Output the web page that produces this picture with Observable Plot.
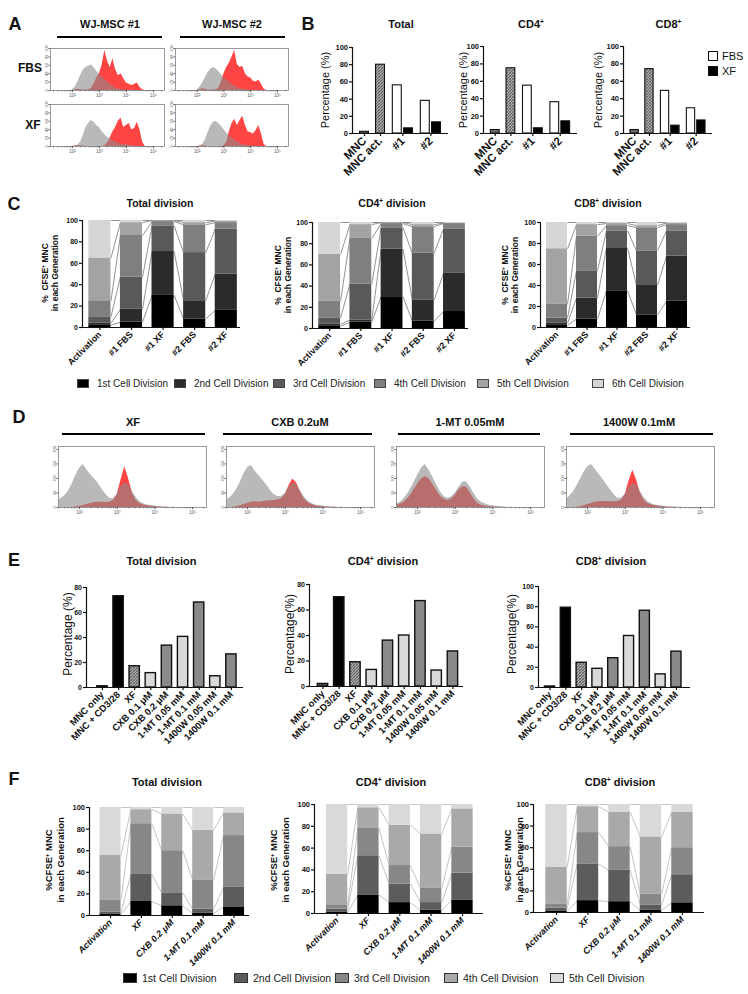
<!DOCTYPE html>
<html><head><meta charset="utf-8">
<script src="https://cdn.jsdelivr.net/npm/d3@7"></script>
<script src="https://cdn.jsdelivr.net/npm/@observablehq/plot@0.6"></script>
<style>
body{margin:0;background:#fff;}
#root{position:relative;width:748px;height:994px;overflow:hidden;font-family:"Liberation Sans",Arial,Helvetica,sans-serif;color:#111;background:#fff;}
.t{position:absolute;white-space:nowrap;line-height:1;}
sup{font-size:0.6em;vertical-align:0.55em;line-height:0;}
.bar{position:absolute;background:#000;}
.sq{position:absolute;box-sizing:border-box;}
svg{overflow:visible;}
</style></head><body>
<svg width="0" height="0" style="position:absolute;left:0;top:0">
<defs>
<pattern id="hatch" width="3" height="3" patternUnits="userSpaceOnUse">
<rect width="3" height="3" fill="#a8a8a8"/>
<path d="M0,3 L3,0 M-1,1 L1,-1 M2,4 L4,2" stroke="#4e4e4e" stroke-width="0.8"/>
<path d="M0,0 L3,3" stroke="#6a6a6a" stroke-width="0.5"/>
</pattern>
</defs></svg>
<div id="root"></div>
<script>
// ---------------- DATA ----------------
// Panel A: CFSE histograms (x = log10 fluorescence, y = relative count)
const aGrid = [2.0,2.1,2.2,2.3,2.4,2.5,2.6,2.7,2.8,2.9,3.0,3.1,3.2,3.3,3.4,3.5,3.6,3.7,3.8,3.9,4.0,4.1,4.2,4.3,4.4,4.5,4.6,4.7,4.8];
const a1FbsGray = [2,8,20,35,48,55,58,61,55,46,38,32,26,20,15,10,6,4,2,1,0,0,0,0,0,0,0,0,0];
const a1FbsRed  = [0,1,3,2,1,1,2,5,15,30,40,60,95,70,55,75,50,35,40,28,18,15,12,14,18,8,2,0,0];
const a1XfGray  = [0,1,3,10,25,45,55,62,58,50,45,35,28,22,18,14,10,8,6,5,4,3,2,1,0,0,0,0,0];
const a1XfRed   = [0,1,2,1,1,0,0,0,0,0,0,0,2,8,20,35,45,60,68,45,50,55,40,42,58,40,10,0,0];
const a2FbsGray = [2,8,18,30,42,50,55,52,45,38,30,25,20,15,10,7,5,3,2,1,0,0,0,0,0,0,0,0,0];
const a2FbsRed  = [0,2,4,3,1,1,1,2,5,20,40,55,65,80,95,62,55,58,40,32,30,22,20,25,15,3,0,0,0];
const a2XfGray  = [0,1,4,15,32,48,57,60,55,48,40,32,25,20,15,10,7,5,3,2,1,0,0,0,0,0,0,0,0];
const a2XfRed   = [0,1,3,1,0,0,0,0,0,0,2,10,35,55,65,50,62,72,50,35,33,30,38,50,30,5,0,0,0];

// Panel B: percentage of dividing cells
const bGroups = ["MNC", "MNC act.", "#1", "#2"];
const bTotalCtrl = [2, 80];  const bTotalFBS = [56, 38]; const bTotalXF = [6, 13];
const bCD4Ctrl   = [4, 75];  const bCD4FBS   = [55, 36]; const bCD4XF   = [6, 14];
const bCD8Ctrl   = [4, 74];  const bCD8FBS   = [49, 29]; const bCD8XF   = [9, 15];

// Panel C: % CFSE+ MNC in each generation (rows = categories, cols = divisions 1..6)
const cCategories = ["Activation", "#1 FBS", "#1 XF", "#2 FBS", "#2 XF"];
const divisions6 = ["1st Cell Division","2nd Cell Division","3rd Cell Division","4th Cell Division","5th Cell Division","6th Cell Division"];
const cTotal = [[2,2,6,15,40,35],[5,12,30,39,12,2],[30,41,24,4,1,0],[8,17,45,26,2,2],[16,34,42,6,1.5,0.5]];
const cCD4   = [[2,2,6,16,44,30],[6,2,34,43,13,2],[30,45,20,4,1,0],[7,20,44,25,2,2],[16,36,42,5,0.5,0.5]];
const cCD8   = [[2,2,5,13,53,25],[8,20,26,33,11,2],[35,41,16,5,2,1],[12,28,33,22,2,3],[25,43,24,6,1.5,0.5]];

// Panel D: CFSE histograms
const dTitles = ["XF", "CXB 0.2uM", "1-MT 0.05mM", "1400W 0.1mM"];
const dGrid = [1.4,1.5,1.6,1.7,1.8,1.9,2.0,2.1,2.2,2.3,2.4,2.5,2.6,2.7,2.8,2.9,3.0,3.1,3.2,3.3,3.4,3.5,3.6,3.7,3.8,3.9,4.0,4.1,4.2,4.3,4.4,4.5,4.6,4.7,4.8];
const dXfGray  = [25,30,40,55,80,110,135,148,128,112,98,82,62,45,32,30,45,72,85,78,55,35,20,13,9,6,5,3,2,2,1,1,0,0,0];
const dXfRed   = [0,0,0,0,1,2,4,7,10,14,17,18,18,17,18,25,45,95,140,100,50,25,14,9,6,4,3,2,1,1,0,0,0,0,0];
const dCxbGray = [25,30,42,60,85,115,138,145,125,110,95,78,60,45,38,38,48,70,85,80,58,38,22,14,9,6,5,3,2,2,1,1,0,0,0];
const dCxbRed  = [0,0,1,3,6,10,14,18,20,18,20,22,22,24,26,30,45,75,98,85,55,30,18,10,6,4,3,2,1,1,0,0,0,0,0];
const dMtGray  = [12,15,25,40,60,85,110,135,148,130,105,80,55,38,32,36,50,70,88,88,70,48,28,18,12,8,6,4,3,2,1,1,0,0,0];
const dMtRed   = [8,10,15,25,40,60,80,98,107,100,80,60,40,28,24,28,42,60,72,70,50,28,14,8,5,3,2,1,1,0,0,0,0,0,0];
const dWGray   = [25,35,50,70,95,120,140,148,132,115,98,80,62,45,32,32,45,70,83,78,55,35,20,13,9,6,5,3,2,2,1,1,0,0,0];
const dWRed    = [0,0,0,1,3,6,10,14,18,20,21,21,20,20,21,26,45,90,128,95,50,25,14,9,6,4,3,2,1,1,0,0,0,0,0];

// Panel E
const eCategories = ["MNC only","MNC + CD3/28","XF","CXB 0.1 μM","CXB 0.2 μM","1-MT 0.05 mM","1-MT 0.1 mM","1400W 0.05 mM","1400W 0.1 mM"];
const eTotal = [1, 73, 17, 11.5, 33.5, 40.5, 68, 9, 26.5];
const eCD4   = [2, 70, 19, 13, 36, 40, 67, 12.5, 27.5];
const eCD8   = [1, 79, 24.5, 18.5, 29, 51, 76, 13, 35.5];

// Panel F
const fCategories = ["Activation", "XF", "CXB 0.2 μM", "1-MT 0.1 mM", "1400W 0.1 mM"];
const divisions5 = ["1st Cell Division","2nd Cell Division","3rd Cell Division","4th Cell Division","5th Cell Division"];
const fTotal = [[1,2,11,42,44],[13,25,47,13,2],[9,12,39,34,6],[2,4,27,46,21],[8,18,48,21,5]];
const fCD4   = [[1,3,4,28,64],[17,36,25,19,3],[10,17,17,37,19],[3,7,13,50,27],[12,25,24,35,4]];
const fCD8   = [[1,3,4,34,58],[11,34,29,24,2],[10,29,22,32,7],[2,5,10,53,30],[9,26,25,33,7]];

// ---------------- HELPERS ----------------
const root = document.getElementById("root");
const FONT = '"Liberation Sans", Arial, Helvetica, sans-serif';
const NARROW = '"Liberation Sans Narrow", "Arial Narrow", "Liberation Sans", Arial, sans-serif';

function txt(html, cx, cy, size, o = {}) {
  const d = document.createElement("div");
  d.className = "t";
  d.innerHTML = html;
  d.style.left = cx + "px"; d.style.top = cy + "px";
  d.style.fontSize = size + "px";
  if (o.bold) d.style.fontWeight = "bold";
  if (o.family) d.style.fontFamily = o.family;
  if (o.color) d.style.color = o.color;
  if (o.lh) d.style.lineHeight = o.lh + "px";
  d.style.textAlign = "center";
  const tx = o.anchor === "start" ? "0" : o.anchor === "end" ? "-100%" : "-50%";
  d.style.transform = `translate(${tx},-50%)` + (o.rot ? " rotate(-90deg)" : "");
  root.appendChild(d);
}
function hbar(x, y, w, h) {
  const d = document.createElement("div");
  d.className = "bar";
  Object.assign(d.style, {left: x + "px", top: y + "px", width: w + "px", height: h + "px"});
  root.appendChild(d);
}
function square(x, y, w, h, fill, stroke) {
  const d = document.createElement("div");
  d.className = "sq";
  Object.assign(d.style, {left: x + "px", top: y + "px", width: w + "px", height: h + "px", background: fill, border: `1px solid ${stroke}`});
  root.appendChild(d);
}
function chart(o) {
  const ml = o.ml ?? 30, mr = o.mr ?? 6, mt = o.mt ?? 6, mb = o.mb ?? 50;
  const opts = {
    width: o.x1 - o.x0 + ml + mr, height: o.y1 - o.y0 + mt + mb,
    marginLeft: ml, marginRight: mr, marginTop: mt, marginBottom: mb,
    x: o.x, y: o.y, marks: o.marks,
    style: {fontFamily: o.family || FONT, background: "transparent", overflow: "visible", color: "#111"}
  };
  if (o.color) opts.color = o.color;
  const svg = Plot.plot(opts);
  svg.style.position = "absolute";
  svg.style.left = (o.x0 - ml) + "px";
  svg.style.top = (o.y0 - mt) + "px";
  root.appendChild(svg);
}
const supDigits = {2: "²", 3: "³", 4: "⁴", 5: "⁵"};
function minorTicks(dom) {
  const out = [];
  for (let n = 1; n <= 5; n++) for (let k = 2; k <= 9; k++) {
    const v = n + Math.log10(k);
    if (v > dom[0] && v < dom[1]) out.push(v);
  }
  return out;
}
function histBox(grid, gray, red, x0, x1, y0, y1, xdom, ydom, yticks) {
  const rows = grid.map((g, i) => ({x: g, gray: gray[i], red: red[i]}));
  chart({x0, x1, y0, y1, ml: 8, mr: 4, mt: 3, mb: 10,
    x: {domain: xdom}, y: {domain: ydom},
    marks: [
      Plot.areaY(rows, {x: "x", y1: 0, y2: "red", fill: "#ff4444", clip: true}),
      Plot.areaY(rows, {x: "x", y1: 0, y2: "gray", fill: "#8a8a8a", fillOpacity: 0.6, clip: true}),
      Plot.frame({stroke: "#8f8f8f", strokeWidth: 0.9}),
      Plot.axisX({ticks: [2, 3, 4, 5], tickFormat: d => "10" + supDigits[d], fontSize: 4.5, tickSize: 2, tickPadding: 1, label: null, color: "#555"}),
      Plot.axisX({ticks: minorTicks(xdom), tickFormat: () => "", tickSize: 1.3, label: null, color: "#777"}),
      Plot.axisY({ticks: yticks, tickFormat: d => d, fontSize: 3.8, tickSize: 1.5, tickPadding: 1, tickRotate: -90, label: null, color: "#555"})
    ]});
}
function frameAxes(xdom, yticks, xticks, xfmt, o = {}) {
  const sw = o.sw ?? 1.2;
  return [
    Plot.ruleX([xdom[0]], {stroke: "#111", strokeWidth: sw}),
    Plot.ruleY([0], {stroke: "#111", strokeWidth: sw}),
    Plot.axisY({ticks: yticks, tickFormat: d => d, tickSize: 3, tickPadding: 1.5, fontSize: o.yfs ?? 7.5, fontWeight: "bold", label: null, strokeWidth: sw, color: "#111"}),
    Plot.axisX({ticks: xticks, tickFormat: xfmt, tickRotate: -45, tickSize: 3, tickPadding: 2.5, fontSize: o.xfs ?? 9, fontWeight: "bold", fontStyle: o.italic ? "italic" : "normal", label: null, strokeWidth: sw, color: "#111"})
  ];
}

// ---------------- PANEL A ----------------
txt("A", 15, 24, 18, {bold: true});
txt("WJ-MSC #1", 110, 24, 11, {bold: true});
hbar(57, 36, 105, 2);
txt("WJ-MSC #2", 232, 24, 11, {bold: true});
hbar(180, 36, 105, 2);
txt("FBS", 30, 68, 12, {bold: true});
txt("XF", 33, 125, 12, {bold: true});
const aX = [1.19, 5.41], aY = [0, 100], aYt = [0, 20, 40, 60, 80, 100];
histBox(aGrid, a1FbsGray, a1FbsRed, 50, 164, 48, 90, aX, aY, aYt);
histBox(aGrid, a1XfGray, a1XfRed, 50, 164, 104, 146, aX, aY, aYt);
histBox(aGrid, a2FbsGray, a2FbsRed, 175, 288, 48, 90, aX, aY, aYt);
histBox(aGrid, a2XfGray, a2XfRed, 175, 288, 104, 146, aX, aY, aYt);

// ---------------- PANEL B ----------------
txt("B", 308, 24, 18, {bold: true});
function groupPos(g) { return g <= 1 ? g : 2.4 + (g - 2) * 1.75; }
function barB(ctrl, fbs, xf, title, x0, x1, y0, y1, ylabelX) {
  const rows = [];
  ctrl.forEach((v, g) => rows.push({c: groupPos(g), v, fill: g === 0 ? "#6a6a6a" : "url(#hatch)"}));
  fbs.forEach((v, j) => rows.push({c: groupPos(j + 2) - 0.35, v, fill: "#ffffff"}));
  xf.forEach((v, j) => rows.push({c: groupPos(j + 2) + 0.35, v, fill: "#000000"}));
  const xdom = [-0.75, 5.25];
  const ticks = bGroups.map((_, g) => groupPos(g));
  const lab = new Map(ticks.map((t, g) => [t, bGroups[g]]));
  chart({x0, x1, y0, y1, x: {domain: xdom}, y: {domain: [0, 100]}, color: {type: "identity"},
    marks: [
      Plot.rect(rows, {x1: d => d.c - 0.28, x2: d => d.c + 0.28, y1: 0, y2: "v", fill: "fill", stroke: "#111", strokeWidth: 1.1}),
      ...frameAxes(xdom, [0, 20, 40, 60, 80, 100], ticks, d => lab.get(d), {xfs: 11.5, yfs: 7.5})
    ]});
  txt(title, (x0 + x1) / 2 + 1, 24, 11, {bold: true});
  txt("Percentage (%)", ylabelX, 90, 11, {rot: true});
}
barB(bTotalCtrl, bTotalFBS, bTotalXF, "Total", 352, 448, 47, 133, 325);
barB(bCD4Ctrl, bCD4FBS, bCD4XF, "CD4<sup>+</sup>", 483, 577, 46, 133, 463);
barB(bCD8Ctrl, bCD8FBS, bCD8XF, "CD8<sup>+</sup>", 623, 712, 46, 133, 598);
square(708, 51, 10, 10, "#fff", "#111");
square(708, 66, 10, 10, "#000", "#111");
txt("FBS", 722, 56, 11, {anchor: "start"});
txt("XF", 722, 71, 11, {anchor: "start"});

// ---------------- PANEL C ----------------
const cColors = ["#000000", "#2b2b2b", "#595959", "#7f7f7f", "#a3a3a3", "#d6d6d6"];
const fColors = ["#000000", "#5c5c5c", "#878787", "#a9a9a9", "#d9d9d9"];
function stackChart(cats, segs, colors, x0, x1, y0, y1, xdom, half, linkColor, o = {}) {
  const rects = [], links = [];
  const cums = segs.map(row => { let s = 0; return [0, ...row.map(v => (s += v))]; });
  cats.forEach((c, i) => segs[i].forEach((v, k) => rects.push({i, y1: cums[i][k], y2: cums[i][k + 1], fill: colors[k]})));
  for (let i = 0; i < cats.length - 1; i++)
    for (let k = 1; k < cums[i].length; k++)
      links.push({x1: i + half, x2: i + 1 - half, y1: cums[i][k], y2: cums[i + 1][k]});
  chart({x0, x1, y0, y1, family: o.family, x: {domain: xdom}, y: {domain: [0, 100]}, color: {type: "identity"},
    marks: [
      Plot.link(links, {x1: "x1", x2: "x2", y1: "y1", y2: "y2", stroke: linkColor, strokeWidth: 0.8}),
      Plot.rect(rects, {x1: d => d.i - half, x2: d => d.i + half, y1: "y1", y2: "y2", fill: "fill"}),
      ...frameAxes(xdom, [0, 20, 40, 60, 80, 100], cats.map((_, i) => i), i => cats[i], o)
    ]});
}
txt("C", 14, 204, 18, {bold: true});
txt("Total division", 160, 203, 10.5, {bold: true});
txt("CD4<sup>+</sup> division", 392, 203, 10.5, {bold: true});
txt("CD8<sup>+</sup> division", 608, 203, 10.5, {bold: true});
const cLabel = "%&nbsp; CFSE<sup>+</sup> MNC<br>in each Generation";
stackChart(cCategories, cTotal, cColors, 82, 240, 220, 327, [-0.55, 4.45], 0.35, "#777", {xfs: 9, yfs: 7});
stackChart(cCategories, cCD4, cColors, 312, 468, 222, 328, [-0.55, 4.45], 0.35, "#777", {xfs: 9, yfs: 7});
stackChart(cCategories, cCD8, cColors, 540, 690, 222, 327, [-0.55, 4.45], 0.35, "#777", {xfs: 9, yfs: 7});
txt(cLabel, 50, 273, 8.5, {bold: true, rot: true, lh: 10});
txt(cLabel, 283, 275, 8.5, {bold: true, rot: true, lh: 10});
txt(cLabel, 510, 275, 8.5, {bold: true, rot: true, lh: 10});
const cLegX = [77, 174, 273, 374, 477, 592];
divisions6.forEach((d, i) => {
  square(cLegX[i], 379, 12, 9, cColors[i], "#444");
  txt(d, cLegX[i] + 20, 384, 10, {anchor: "start", color: "#222"});
});

// ---------------- PANEL D ----------------
txt("D", 19, 417, 18, {bold: true});
const dBoxes = [[58, 206], [226, 374], [396, 544], [566, 714]];
const dLines = [[62, 205], [223, 372], [398, 540], [570, 713]];
const dTitleX = [133, 300, 470, 639];
const dGray = [dXfGray, dCxbGray, dMtGray, dWGray];
const dRed = [dXfRed, dCxbRed, dMtRed, dWRed];
dTitles.forEach((t, i) => {
  txt(t, dTitleX[i], 422, 11, {bold: true});
  hbar(dLines[i][0], 433, dLines[i][1] - dLines[i][0], 2);
  histBox(dGrid, dGray[i], dRed[i], dBoxes[i][0], dBoxes[i][1], 446, 507, [1.44, 5.37], [0, 210], [0, 50, 100, 150, 200]);
});

// ---------------- PANEL E ----------------
txt("E", 14, 560, 18, {bold: true});
const eFill = ["#5a5a5a", "#000000", "url(#hatch)", "#d9d9d9", "#8a8a8a", "#d9d9d9", "#8a8a8a", "#d9d9d9", "#8a8a8a"];
function barE(vals, title, x0, x1, y0, y1, xdom, ymax, ylabel, ylx) {
  const rows = vals.map((v, i) => ({i, v, fill: eFill[i]}));
  const yt = d3.range(0, ymax + 1, 20);
  chart({x0, x1, y0, y1, x: {domain: xdom}, y: {domain: [0, ymax]}, color: {type: "identity"},
    marks: [
      Plot.rect(rows, {x1: d => d.i - 0.32, x2: d => d.i + 0.32, y1: 0, y2: "v", fill: "fill", stroke: "#111", strokeWidth: 1.4}),
      ...frameAxes(xdom, yt, eCategories.map((_, i) => i), i => eCategories[i], {xfs: 9.5, yfs: 7})
    ]});
  txt(title, (x0 + x1) / 2 - 3, 561, 11, {bold: true});
  txt(ylabel, ylx, 634, 12, {rot: true});
}
barE(eTotal, "Total division", 86, 243, 587, 687, [-0.99, 8.75], 80, "Percentage (%)", 68);
barE(eCD4, "CD4<sup>+</sup> division", 309, 463, 584, 686, [-0.83, 8.65], 80, "Percentage(%)", 290);
barE(eCD8, "CD8<sup>+</sup> division", 538, 690, 586, 687, [-0.73, 8.89], 100, "Percentage(%)", 512);

// ---------------- PANEL F ----------------
txt("F", 14, 779, 18, {bold: true});
txt("Total division", 167, 782, 11, {bold: true, family: NARROW});
txt("CD4<sup>+</sup> division", 391, 782, 11, {bold: true, family: NARROW});
txt("CD8<sup>+</sup> division", 620, 782, 11, {bold: true, family: NARROW});
const fOpts = {xfs: 9, yfs: 7.5, italic: true, family: NARROW};
stackChart(fCategories, fTotal, fColors, 89, 249, 807, 915, [-0.68, 4.5], 0.34, "#b5b5b5", fOpts);
stackChart(fCategories, fCD4, fColors, 314, 483, 804, 913, [-0.72, 4.67], 0.34, "#b5b5b5", fOpts);
stackChart(fCategories, fCD8, fColors, 533, 704, 804, 912, [-0.73, 4.7], 0.34, "#b5b5b5", fOpts);
const fLabel = "%CFSE<sup>+</sup> MNC<br>in each Generation";
txt(fLabel, 55, 860, 9.5, {bold: true, rot: true, lh: 12});
txt(fLabel, 280, 860, 9.5, {bold: true, rot: true, lh: 12});
txt(fLabel, 514, 860, 9.5, {bold: true, rot: true, lh: 12});
const fLegX = [123, 234, 335, 444, 550];
divisions5.forEach((d, i) => {
  square(fLegX[i], 973, 14, 10, fColors[i], "#333");
  txt(d, fLegX[i] + 19, 978, 10.5, {anchor: "start", color: "#222", family: NARROW});
});
</script>
</body></html>
